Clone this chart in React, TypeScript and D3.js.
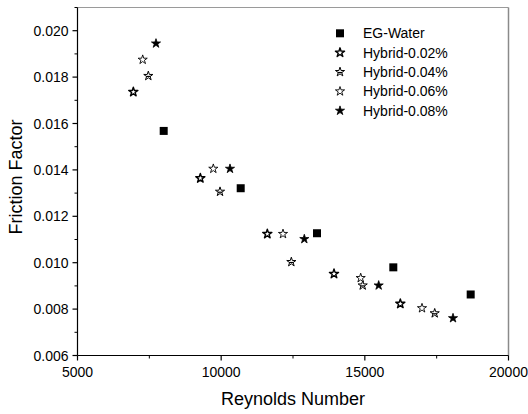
import React from "react";
import * as d3 from "d3";

const seriesNames = ["EG-Water", "Hybrid-0.02%", "Hybrid-0.04%", "Hybrid-0.06%", "Hybrid-0.08%"];
const egWater: [number, number][] = [[8000, 0.01568], [10680, 0.01321], [13335, 0.01127], [15991, 0.0098], [18684, 0.00863]];
const hybrid002: [number, number][] = [[6943, 0.01736], [9275, 0.01364], [11606, 0.01124], [13927, 0.00952], [16235, 0.00823]];
const hybrid004: [number, number][] = [[7465, 0.01805], [9960, 0.01306], [12442, 0.01003], [14926, 0.00902], [17432, 0.00782]];
const hybrid006: [number, number][] = [[7269, 0.01875], [9727, 0.01405], [12152, 0.01124], [14856, 0.00934], [16990, 0.00804]];
const hybrid008: [number, number][] = [[7732, 0.01945], [10307, 0.01405], [12894, 0.01102], [15482, 0.00902], [18069, 0.00761]];
const xMajor = [5000, 10000, 15000, 20000];
const xMinor = [7500, 12500, 17500];
const yMajor = [0.006, 0.008, 0.01, 0.012, 0.014, 0.016, 0.018, 0.02];
const yMinor = [0.007, 0.009, 0.011, 0.013, 0.015, 0.017, 0.019, 0.021];

const W = 528, H = 414;
const L = 77.5, R = 508.5, T = 7.5, B = 355.5;
const x = d3.scaleLinear().domain([5000, 20000]).range([L, R]);
const y = d3.scaleLinear().domain([0.006, 0.021]).range([B, T]);
const starPath = d3.symbol().type(d3.symbolStar).size(26)() as string;
const squarePath = d3.symbol().type(d3.symbolSquare).size(64)() as string;
const FONT = "Liberation Sans, Arial, sans-serif";

function Marker({ kind, cx, cy }: { kind: number; cx: number; cy: number }) {
  const t = `translate(${cx},${cy})`;
  if (kind === 0) return <path d={squarePath} transform={t} fill="#000" />;
  if (kind === 1) return <path d={starPath} transform={t} fill="#fff" stroke="#000" strokeWidth={1.4} strokeLinejoin="round" />;
  if (kind === 2)
    return (
      <g transform={t}>
        <path d={starPath} fill="#fff" stroke="#000" strokeWidth={1} strokeLinejoin="round" />
        <line x1={-2.2} x2={2.2} y1={0.5} y2={0.5} stroke="#000" strokeWidth={1.2} />
      </g>
    );
  if (kind === 3) return <path d={starPath} transform={t} fill="#fff" stroke="#000" strokeWidth={0.9} strokeLinejoin="round" />;
  return <path d={starPath} transform={t} fill="#000" stroke="#000" strokeWidth={0.8} strokeLinejoin="round" />;
}

export default function App() {
  const all = [egWater, hybrid002, hybrid004, hybrid006, hybrid008];
  return (
    <svg width={W} height={H} style={{ position: "absolute", left: 0, top: 0, background: "#fff" }} fontFamily={FONT}>
      <rect width={W} height={H} fill="#fff" />
      {/* frame */}
      <line x1={L} x2={R} y1={T} y2={T} stroke="#9a9a9a" strokeWidth={1} />
      <line x1={R} x2={R} y1={T} y2={B} stroke="#8a8a8a" strokeWidth={1.5} />
      <line x1={L} x2={L} y1={T} y2={B} stroke="#000" strokeWidth={1.2} />
      <line x1={L} x2={R} y1={B} y2={B} stroke="#000" strokeWidth={1.2} />
      {/* x ticks */}
      {xMajor.map((v) => (
        <g key={"xM" + v}>
          <line x1={x(v)} x2={x(v)} y1={B} y2={B + 5} stroke="#000" strokeWidth={1.2} />
          <text x={x(v)} y={B + 21} textAnchor="middle" fontSize={14}>{v}</text>
        </g>
      ))}
      {xMinor.map((v) => (
        <line key={"xm" + v} x1={x(v)} x2={x(v)} y1={B} y2={B + 3} stroke="#000" strokeWidth={1} />
      ))}
      {/* y ticks */}
      {yMajor.map((v) => (
        <g key={"yM" + v}>
          <line x1={L - 5} x2={L} y1={y(v)} y2={y(v)} stroke="#000" strokeWidth={1.2} />
          <text x={L - 9} y={y(v) + 5} textAnchor="end" fontSize={14}>{d3.format(".3f")(v)}</text>
        </g>
      ))}
      {yMinor.map((v) => (
        <line key={"ym" + v} x1={L - 3} x2={L} y1={y(v)} y2={y(v)} stroke="#000" strokeWidth={1} />
      ))}
      {/* titles */}
      <text x={(L + R) / 2} y={405} textAnchor="middle" fontSize={18}>Reynolds Number</text>
      <text transform={`translate(22,177) rotate(-90)`} textAnchor="middle" fontSize={18}>Friction Factor</text>
      {/* data */}
      {all.map((s, i) => (
        <g key={"s" + i}>
          {s.map(([a, b], j) => (
            <Marker key={j} kind={i} cx={x(a)} cy={y(b)} />
          ))}
        </g>
      ))}
      {/* legend */}
      {seriesNames.map((n, i) => (
        <g key={"l" + i}>
          <Marker kind={i} cx={340} cy={33.3 + i * 19.35} />
          <text x={363} y={33.3 + i * 19.35 + 5} fontSize={14}>{n}</text>
        </g>
      ))}
    </svg>
  );
}
